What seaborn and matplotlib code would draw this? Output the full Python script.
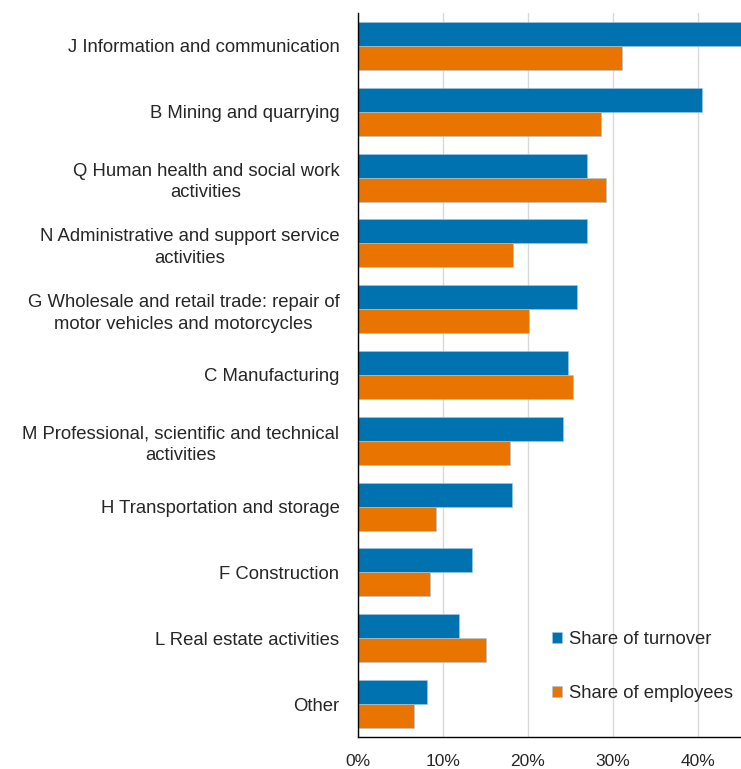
import pandas as pd
import matplotlib.pyplot as plt
import seaborn as sns
from matplotlib.ticker import PercentFormatter

industries = [
    'J Information and communication',
    'B Mining and quarrying',
    'Q Human health and social work\nactivities',
    'N Administrative and support service\nactivities',
    'G Wholesale and retail trade: repair of\nmotor vehicles and motorcycles',
    'C Manufacturing',
    'M Professional, scientific and technical\nactivities',
    'H Transportation and storage',
    'F Construction',
    'L Real estate activities',
    'Other',
]
turnover = [46.0, 40.4, 26.9, 26.9, 25.8, 24.7, 24.1, 18.1, 13.4, 11.9, 8.1]
employees = [31.0, 28.6, 29.2, 18.3, 20.1, 25.3, 17.9, 9.2, 8.5, 15.1, 6.6]
series = ['Share of turnover', 'Share of employees']
colors = ['#0072B0', '#E97400']

df = pd.DataFrame({'industry': industries, series[0]: turnover, series[1]: employees})
df = df.melt(id_vars='industry', var_name='series', value_name='share')

sns.set_theme(style='white')
plt.rcParams['font.family'] = ['Liberation Sans', 'DejaVu Sans']
plt.rcParams['text.color'] = '#262626'

fig = plt.figure(figsize=(7.41, 7.69), dpi=100)
ax = fig.add_axes([357.5 / 741, 1 - 737 / 769, (741 - 357.5) / 741, (737 - 13) / 769])

sns.barplot(data=df, y='industry', x='share', hue='series', palette=colors,
            width=0.73, saturation=1, ax=ax, edgecolor='#9ec9e6', linewidth=0.4)

ax.set_xlim(0, 45)
ax.set_xticks([0, 10, 20, 30, 40])
ax.xaxis.set_major_formatter(PercentFormatter(decimals=0))
ax.set_xlabel('')
ax.set_ylabel('')
ax.grid(axis='x', color='#d9d9d9', lw=1)
ax.set_axisbelow(True)
for s in ['top', 'right']:
    ax.spines[s].set_visible(False)
for s in ['left', 'bottom']:
    ax.spines[s].set_color('black')
    ax.spines[s].set_linewidth(1)
ax.tick_params(axis='both', length=0, colors='#262626')
ax.tick_params(axis='y', pad=13, labelsize=13.3)
ax.tick_params(axis='x', pad=12, labelsize=12.5)
for t in ax.get_yticklabels():
    t.set_multialignment('center')
    t.set_linespacing(1.35)

ax.legend(loc='lower left', bbox_to_anchor=(0.464, 0.025), frameon=False,
          fontsize=13.3, labelspacing=2.0, handlelength=0.55, handleheight=0.55,
          handletextpad=0.35)

fig.savefig('out.png', dpi=100)
